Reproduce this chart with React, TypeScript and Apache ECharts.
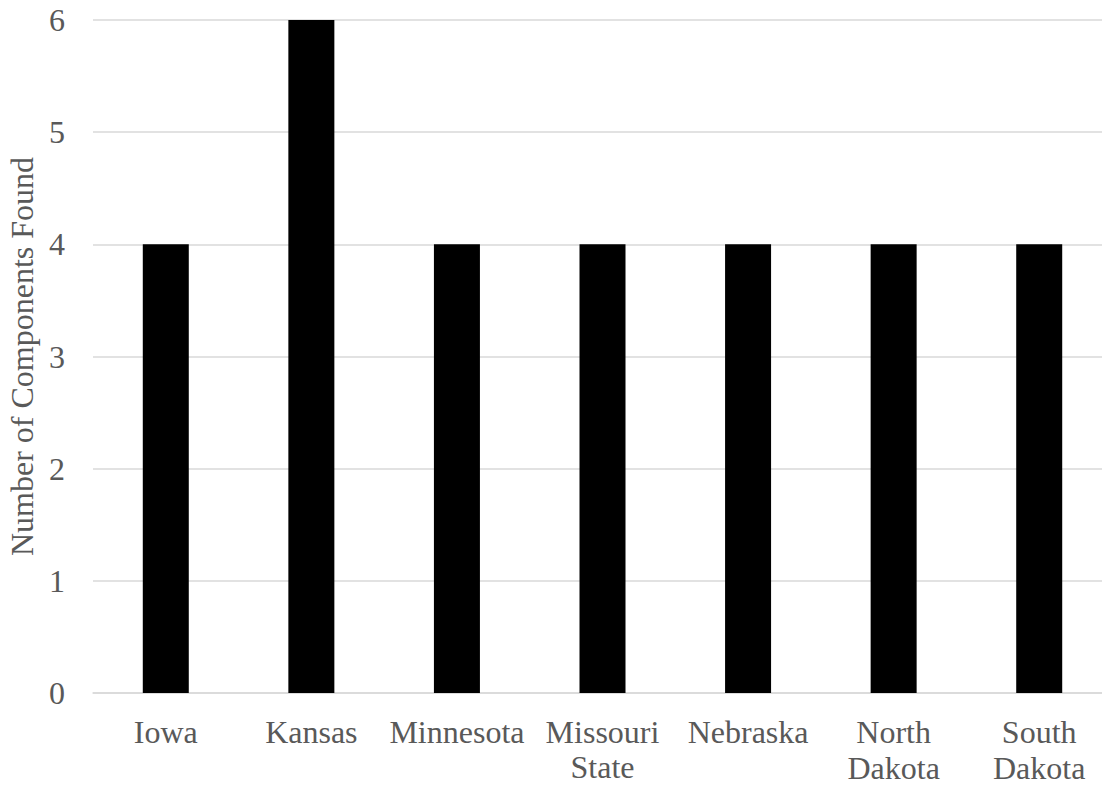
import React, { useEffect, useRef } from "react";
import * as echarts from "echarts";

const categories = ["Iowa", "Kansas", "Minnesota", "Missouri", "Nebraska", "North\nDakota", "South\nDakota"];
const componentsFound = [4, 6, 4, 4, 4, 4, 4];
const yAxisTitle = "Number of Components Found";
const xAxisTitle = "State";

const FONT = "Liberation Serif";
const TEXT = "#595959";

export default function App() {
  const ref = useRef<HTMLDivElement>(null);
  useEffect(() => {
    if (!ref.current) return;
    const chart = echarts.init(ref.current, null, { renderer: "svg" });
    chart.setOption({
      animation: false,
      backgroundColor: "#ffffff",
      grid: { left: 93, right: -10, top: 20, bottom: 106, containLabel: false, outerBoundsMode: "none" },
      xAxis: {
        type: "category",
        data: categories,
        name: xAxisTitle,
        nameLocation: "middle",
        nameGap: 58,
        nameMoveOverlap: false,
        nameTextStyle: { color: TEXT, fontFamily: FONT, fontSize: 32 },
        axisLine: { show: true, lineStyle: { color: "#d9d9d9", width: 1.5 } },
        axisTick: { show: false },
        axisLabel: {
          color: TEXT,
          fontFamily: FONT,
          fontSize: 32,
          lineHeight: 36,
          margin: 21,
          interval: 0,
        },
      },
      yAxis: {
        type: "value",
        min: 0,
        max: 6,
        interval: 1,
        name: yAxisTitle,
        nameLocation: "middle",
        nameGap: 54,
        nameRotate: 90,
        nameTextStyle: { color: TEXT, fontFamily: FONT, fontSize: 32 },
        axisLine: { show: false },
        axisTick: { show: false },
        axisLabel: { color: TEXT, fontFamily: FONT, fontSize: 32, margin: 28 },
        splitLine: { show: true, lineStyle: { color: "#d9d9d9", width: 1.5 } },
      },
      series: [
        {
          type: "bar",
          data: componentsFound,
          barWidth: 46,
          itemStyle: { color: "#000000" },
        },
      ],
    });
    return () => chart.dispose();
  }, []);
  return <div ref={ref} style={{ width: 1102, height: 799, position: "fixed", left: 0, top: 0 }} />;
}
